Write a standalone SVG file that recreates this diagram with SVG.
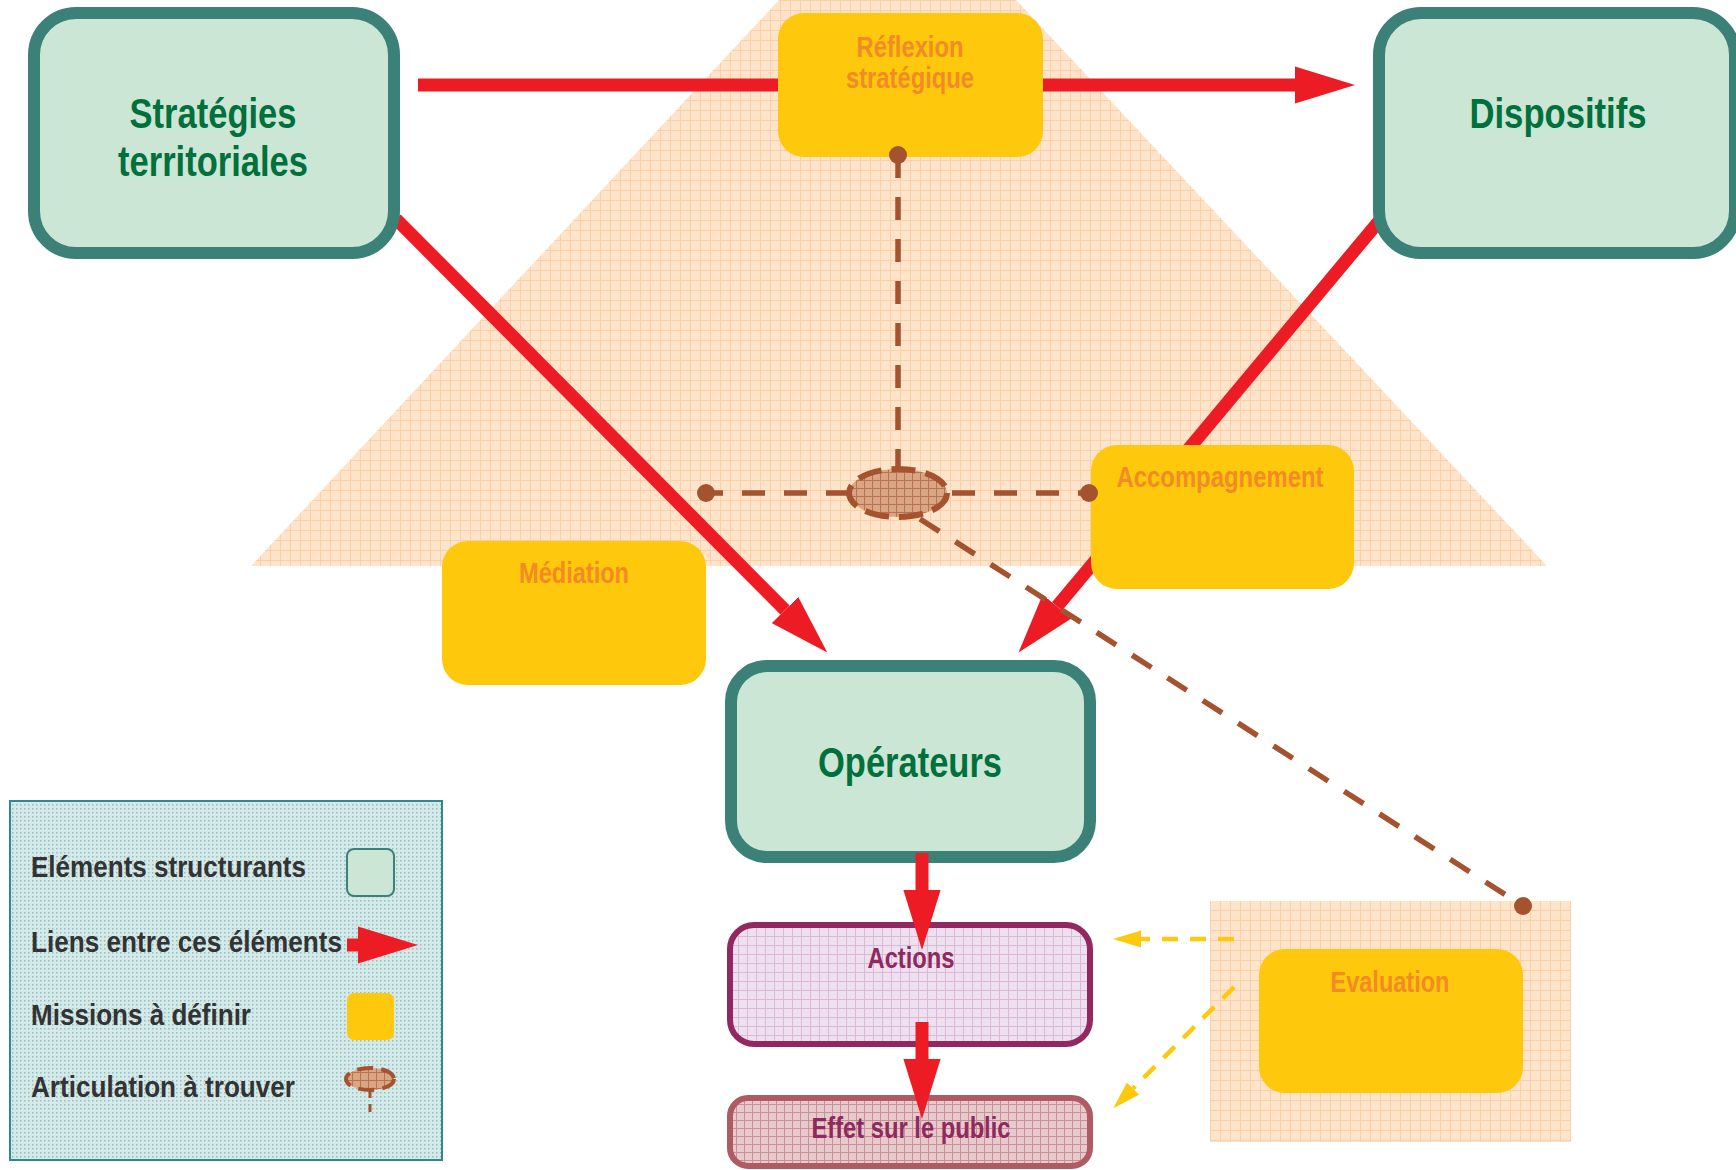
<svg xmlns="http://www.w3.org/2000/svg" width="1736" height="1170" viewBox="0 0 1736 1170">
<defs>
<style>
.struct{fill:#cce6d5;stroke:#3c8177;stroke-width:12}
.mission{fill:#fec90c}
.title{font-family:"Liberation Sans",Arial,sans-serif;font-weight:bold;font-size:43px;fill:#00703c;text-anchor:middle}
.mtext{font-family:"Liberation Sans",Arial,sans-serif;font-weight:bold;font-size:29px;fill:#f58a25;text-anchor:middle}
.ptext{font-family:"Liberation Sans",Arial,sans-serif;font-weight:bold;font-size:29px;fill:#8e2a5e;text-anchor:middle}
.ltext{font-family:"Liberation Sans",Arial,sans-serif;font-weight:bold;font-size:30px;fill:#333333}
.red{stroke:#ed1c24;stroke-width:13;fill:none}
.brown{stroke:#a5532f;stroke-width:5.5;fill:none;stroke-dasharray:23 19}
.bdot{fill:#a5532f}
.ylw{stroke:#fec90c;stroke-width:4.5;fill:none;stroke-dasharray:16 12}
</style>
<pattern id="peach" width="10" height="10" patternUnits="userSpaceOnUse">
<rect width="10" height="10" fill="#fde4cb"/>
<path d="M0 0.5H10M0.5 0V10" stroke="#fbd0a6" stroke-width="1"/>
</pattern>
<pattern id="legendp" width="4" height="4" patternUnits="userSpaceOnUse">
<rect width="4" height="4" fill="#d6e9e9"/>
<rect width="1.5" height="1.5" fill="#8fbfc2"/>
</pattern>
<pattern id="artp" width="8" height="8" patternUnits="userSpaceOnUse">
<rect width="8" height="8" fill="#d9a584"/>
<path d="M0 0.5H8M0.5 0V8" stroke="#b8724d" stroke-width="1"/>
</pattern>
<pattern id="actp" width="9" height="9" patternUnits="userSpaceOnUse">
<rect width="9" height="9" fill="#efe0f0"/>
<path d="M0 0.5H9M0.5 0V9" stroke="#dab8da" stroke-width="1"/>
</pattern>
<pattern id="effp" width="8" height="8" patternUnits="userSpaceOnUse">
<rect width="8" height="8" fill="#e8c9cc"/>
<path d="M0 0.5H8M0.5 0V8" stroke="#c98f98" stroke-width="1"/>
</pattern>
<marker id="redHead" markerUnits="userSpaceOnUse" markerWidth="60" markerHeight="38" viewBox="0 0 58 36" refX="0" refY="18" orient="auto">
<path d="M0,0 L58,18 L0,36 Z" fill="#ed1c24"/>
</marker>
<marker id="ylwHead" markerUnits="userSpaceOnUse" markerWidth="28" markerHeight="18" viewBox="0 0 26 16" refX="0" refY="8" orient="auto">
<path d="M0,0 L26,8 L0,16 Z" fill="#fec90c"/>
</marker>
</defs>

<rect width="1736" height="1170" fill="#ffffff"/>

<g id="zone-centrale">
<polygon points="779,0 1016,0 1547,566 251,566" fill="url(#peach)"/>
</g>
<g id="zone-evaluation">
<rect x="1210" y="901" width="361" height="241" fill="url(#peach)"/>
</g>

<g id="connectors">
<line class="red" x1="418" y1="85" x2="1295" y2="85" marker-end="url(#redHead)"/>
<line class="red" x1="396" y1="219" x2="785" y2="610" marker-end="url(#redHead)"/>
<line class="red" x1="1380" y1="220" x2="1057" y2="606.5" marker-end="url(#redHead)"/>
<line class="ylw" x1="1234" y1="939" x2="1141" y2="939" marker-end="url(#ylwHead)"/>
<line class="ylw" x1="1234" y1="987" x2="1133" y2="1088.5" marker-end="url(#ylwHead)"/>
</g>

<g id="strategies">
<rect class="struct" x="34" y="13" width="360" height="240" rx="42"/>
<text class="title" x="213" y="128" textLength="167" lengthAdjust="spacingAndGlyphs">Stratégies</text>
<text class="title" x="213" y="176" textLength="190" lengthAdjust="spacingAndGlyphs">territoriales</text>
</g>

<g id="dispositifs">
<rect class="struct" x="1379" y="13" width="356" height="240" rx="42"/>
<text class="title" x="1558" y="128" textLength="177" lengthAdjust="spacingAndGlyphs">Dispositifs</text>
</g>

<g id="reflexion">
<rect class="mission" x="778" y="13" width="265" height="144" rx="26"/>
<text class="mtext" x="910" y="57" textLength="107" lengthAdjust="spacingAndGlyphs">Réflexion</text>
<text class="mtext" x="910" y="88" textLength="128" lengthAdjust="spacingAndGlyphs">stratégique</text>
</g>

<g id="mediation">
<rect class="mission" x="442" y="541" width="264" height="144" rx="26"/>
<text class="mtext" x="574" y="583" textLength="110" lengthAdjust="spacingAndGlyphs">Médiation</text>
</g>

<g id="accompagnement">
<rect class="mission" x="1091" y="445" width="263" height="144" rx="26"/>
<text class="mtext" x="1220" y="487" textLength="207" lengthAdjust="spacingAndGlyphs">Accompagnement</text>
</g>

<g id="articulation">
<line class="brown" x1="898" y1="155" x2="898" y2="470"/>
<line class="brown" x1="706" y1="493" x2="1089" y2="493" stroke-dashoffset="6"/>
<line class="brown" x1="920" y1="519" x2="1523" y2="906"/>
<ellipse cx="898" cy="493" rx="49" ry="24" fill="url(#artp)" stroke="#a5532f" stroke-width="6" stroke-dasharray="24 10"/>
<circle class="bdot" cx="898" cy="155" r="9"/>
<circle class="bdot" cx="706" cy="493" r="9"/>
<circle class="bdot" cx="1089" cy="493" r="9"/>
<circle class="bdot" cx="1523" cy="906" r="9"/>
</g>

<g id="operateurs">
<rect class="struct" x="731" y="666" width="359" height="191" rx="36"/>
<text class="title" x="910" y="777" textLength="184" lengthAdjust="spacingAndGlyphs">Opérateurs</text>
</g>

<g id="actions">
<rect x="730" y="925" width="360" height="119" rx="24" fill="url(#actp)" stroke="#92285f" stroke-width="6"/>
<text class="ptext" x="911" y="968" textLength="87" lengthAdjust="spacingAndGlyphs">Actions</text>
</g>

<g id="effet">
<rect x="730" y="1098" width="360" height="68" rx="18" fill="url(#effp)" stroke="#b05a64" stroke-width="6"/>
<text class="ptext" x="911" y="1138" textLength="199" lengthAdjust="spacingAndGlyphs">Effet sur le public</text>
</g>

<g id="connectors-flow">
<line class="red" stroke-width="12" x1="922" y1="853" x2="922" y2="890" marker-end="url(#redHead)"/>
<line class="red" stroke-width="12" x1="922" y1="1022" x2="922" y2="1059" marker-end="url(#redHead)"/>
</g>

<g id="evaluation">
<rect class="mission" x="1259" y="949" width="264" height="144" rx="26"/>
<text class="mtext" x="1390" y="992" textLength="119" lengthAdjust="spacingAndGlyphs">Evaluation</text>
</g>

<g id="legende">
<rect x="10" y="801" width="432" height="359" fill="url(#legendp)" stroke="#2e8a8f" stroke-width="2"/>
<text class="ltext" x="31" y="877" textLength="275" lengthAdjust="spacingAndGlyphs">Eléments structurants</text>
<text class="ltext" x="31" y="952" textLength="311" lengthAdjust="spacingAndGlyphs">Liens entre ces éléments</text>
<text class="ltext" x="31" y="1025" textLength="220" lengthAdjust="spacingAndGlyphs">Missions à définir</text>
<text class="ltext" x="31" y="1097" textLength="264" lengthAdjust="spacingAndGlyphs">Articulation à trouver</text>
<rect x="347" y="849" width="47" height="47" rx="7" fill="#cce6d5" stroke="#3c8177" stroke-width="2"/>
<line class="red" stroke-width="14" x1="347" y1="945" x2="358" y2="945" marker-end="url(#redHead)"/>
<rect class="mission" x="347" y="993" width="47" height="47" rx="7"/>
<ellipse cx="370" cy="1079" rx="24" ry="11" fill="url(#artp)" stroke="#a5532f" stroke-width="4" stroke-dasharray="16 8"/>
<line x1="370" y1="1090" x2="370" y2="1112" stroke="#a5532f" stroke-width="3" stroke-dasharray="8 6"/>
</g>
</svg>
